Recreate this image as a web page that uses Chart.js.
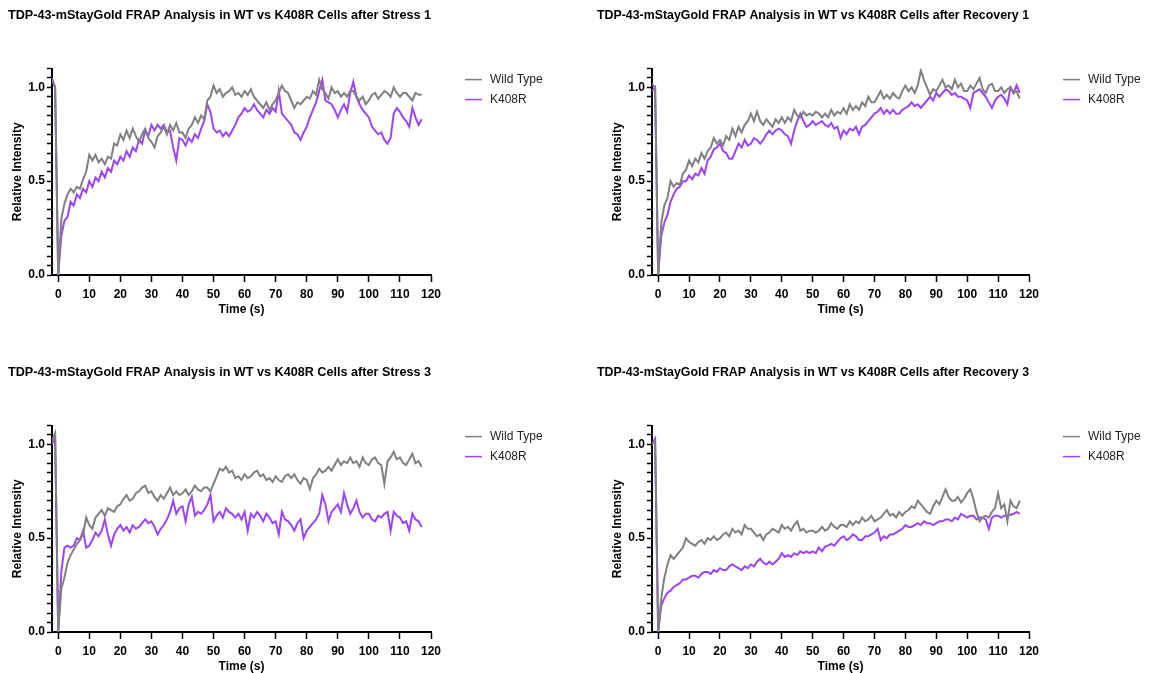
<!DOCTYPE html>
<html>
<head>
<meta charset="utf-8">
<script src="https://cdn.jsdelivr.net/npm/chart.js@4.4.1/dist/chart.umd.min.js"></script>
<style>
  body { margin: 0; background: #fff; width: 1150px; height: 673px; position: relative; overflow: hidden; }
  .panel { position: absolute; width: 560px; height: 336px; }
</style>
</head>
<body>
<div class="panel" style="left:0;top:0"><canvas id="stress1" width="560" height="336"></canvas></div>
<div class="panel" style="left:590px;top:0"><canvas id="recovery1" width="560" height="336"></canvas></div>
<div class="panel" style="left:0;top:357px"><canvas id="stress3" width="560" height="336"></canvas></div>
<div class="panel" style="left:590px;top:357px"><canvas id="recovery3" width="560" height="336"></canvas></div>
<script>
// time points (s): two pre-bleach frames, bleach at 0, then 1 s steps to 117
const times = Array.from({ length: 120 }, (_, i) => i - 2);

const xTicks = [0, 10, 20, 30, 40, 50, 60, 70, 80, 90, 100, 110, 120];
const yTicks = [0.0, 0.5, 1.0];

// Stress 1
const stress1Wt = [1.04, 1.00, 0.00,
  0.30, 0.38, 0.43, 0.46, 0.44, 0.47, 0.46, 0.51, 0.55,
  0.64, 0.61, 0.64, 0.60, 0.62, 0.59, 0.63, 0.62, 0.70, 0.69,
  0.75, 0.72, 0.77, 0.73, 0.78, 0.74, 0.71, 0.75, 0.78, 0.73,
  0.71, 0.68, 0.74, 0.76, 0.79, 0.75, 0.80, 0.77, 0.81, 0.76,
  0.76, 0.73, 0.78, 0.80, 0.84, 0.81, 0.85, 0.83, 0.93, 0.95,
  1.01, 0.97, 0.99, 0.95, 0.97, 0.98, 1.00, 0.96, 0.97, 0.95,
  0.98, 0.96, 0.99, 0.95, 0.93, 0.91, 0.89, 0.92, 0.88, 0.91,
  0.93, 0.97, 1.01, 0.98, 0.97, 0.93, 0.89, 0.92, 0.91, 0.93,
  0.95, 0.94, 0.98, 0.96, 1.04, 0.99, 0.97, 0.94, 1.00, 0.97,
  0.98, 0.95, 0.97, 0.95, 0.98, 0.98, 0.95, 0.93, 0.95, 0.91,
  0.93, 0.96, 0.97, 0.94, 0.96, 0.98, 0.97, 0.95, 1.00, 0.97,
  0.95, 0.97, 0.97, 0.95, 0.93, 0.97, 0.96, 0.96];
const stress1K = [1.05, 1.00, 0.00,
  0.21, 0.29, 0.31, 0.39, 0.37, 0.43, 0.41, 0.46, 0.44,
  0.50, 0.47, 0.52, 0.50, 0.55, 0.52, 0.57, 0.55, 0.61, 0.59,
  0.63, 0.61, 0.66, 0.63, 0.68, 0.66, 0.72, 0.70, 0.77, 0.74,
  0.80, 0.77, 0.80, 0.78, 0.80, 0.76, 0.77, 0.68, 0.61, 0.73,
  0.72, 0.69, 0.73, 0.71, 0.75, 0.73, 0.78, 0.82, 0.91, 0.87,
  0.78, 0.76, 0.77, 0.74, 0.76, 0.74, 0.77, 0.80, 0.84, 0.86,
  0.89, 0.87, 0.88, 0.91, 0.88, 0.86, 0.84, 0.88, 0.86, 0.89,
  0.87, 0.98, 0.86, 0.84, 0.82, 0.80, 0.76, 0.75, 0.72, 0.76,
  0.79, 0.84, 0.88, 0.92, 0.98, 1.04, 0.93, 0.92, 0.91, 0.88,
  0.84, 0.88, 0.91, 0.87, 0.97, 1.03, 0.95, 0.91, 0.88, 0.86,
  0.84, 0.79, 0.77, 0.75, 0.76, 0.72, 0.70, 0.73, 0.86, 0.89,
  0.87, 0.84, 0.82, 0.79, 0.89, 0.84, 0.80, 0.83];

// Recovery 1
const recovery1Wt = [1.02, 1.00, 0.00,
  0.28, 0.37, 0.41, 0.50, 0.47, 0.49, 0.48, 0.54, 0.56,
  0.61, 0.58, 0.62, 0.60, 0.65, 0.62, 0.66, 0.68, 0.73, 0.70,
  0.72, 0.69, 0.74, 0.72, 0.78, 0.74, 0.79, 0.76, 0.80, 0.82,
  0.86, 0.82, 0.87, 0.82, 0.80, 0.83, 0.81, 0.79, 0.83, 0.81,
  0.84, 0.81, 0.84, 0.82, 0.88, 0.85, 0.84, 0.87, 0.85, 0.86,
  0.85, 0.87, 0.86, 0.84, 0.86, 0.84, 0.88, 0.85, 0.87, 0.86,
  0.89, 0.86, 0.91, 0.88, 0.90, 0.88, 0.92, 0.90, 0.95, 0.92,
  0.92, 0.95, 0.98, 0.94, 0.96, 0.94, 0.97, 0.95, 0.94, 0.98,
  1.01, 0.98, 1.00, 0.97, 1.01, 1.09, 1.04, 1.00, 0.96, 0.99,
  0.98, 1.01, 1.04, 1.00, 1.01, 0.99, 1.04, 1.00, 1.02, 0.98,
  0.98, 1.01, 0.99, 1.02, 1.05, 0.99, 0.97, 1.01, 1.02, 0.98,
  0.98, 1.00, 0.97, 0.99, 1.00, 0.97, 0.98, 0.94];
const recovery1K = [0.98, 1.00, 0.00,
  0.21, 0.28, 0.32, 0.39, 0.43, 0.46, 0.47, 0.50, 0.50,
  0.53, 0.51, 0.54, 0.53, 0.57, 0.54, 0.61, 0.63, 0.67, 0.68,
  0.70, 0.66, 0.65, 0.62, 0.62, 0.66, 0.70, 0.68, 0.72, 0.69,
  0.70, 0.73, 0.72, 0.70, 0.72, 0.75, 0.77, 0.75, 0.77, 0.78,
  0.77, 0.75, 0.74, 0.70, 0.77, 0.82, 0.86, 0.82, 0.79, 0.80,
  0.82, 0.80, 0.81, 0.82, 0.80, 0.79, 0.81, 0.78, 0.79, 0.73,
  0.77, 0.75, 0.78, 0.77, 0.79, 0.75, 0.79, 0.80, 0.82, 0.84,
  0.86, 0.87, 0.89, 0.86, 0.88, 0.86, 0.88, 0.86, 0.86, 0.88,
  0.89, 0.90, 0.92, 0.90, 0.91, 0.89, 0.91, 0.93, 0.95, 0.93,
  0.97, 0.95, 0.97, 0.99, 0.98, 0.96, 0.97, 0.95, 0.95, 0.94,
  0.93, 0.89, 0.97, 0.98, 0.99, 0.97, 0.95, 0.92, 0.89, 0.93,
  0.95, 0.96, 0.94, 0.91, 1.00, 0.97, 1.01, 0.97];

// Stress 3
const stress3Wt = [1.02, 1.06, 0.00,
  0.23, 0.29, 0.37, 0.41, 0.44, 0.47, 0.49, 0.52, 0.61,
  0.57, 0.55, 0.61, 0.63, 0.65, 0.62, 0.66, 0.65, 0.64, 0.67,
  0.68, 0.71, 0.73, 0.70, 0.71, 0.74, 0.75, 0.77, 0.78, 0.74,
  0.75, 0.72, 0.70, 0.73, 0.71, 0.74, 0.77, 0.73, 0.75, 0.73,
  0.74, 0.76, 0.73, 0.75, 0.78, 0.76, 0.75, 0.77, 0.77, 0.75,
  0.79, 0.83, 0.87, 0.86, 0.88, 0.85, 0.86, 0.82, 0.83, 0.81,
  0.84, 0.82, 0.83, 0.85, 0.86, 0.83, 0.84, 0.81, 0.82, 0.80,
  0.83, 0.81, 0.80, 0.83, 0.84, 0.82, 0.84, 0.81, 0.79, 0.82,
  0.81, 0.76, 0.82, 0.84, 0.87, 0.85, 0.86, 0.88, 0.86, 0.89,
  0.92, 0.89, 0.91, 0.90, 0.93, 0.90, 0.91, 0.88, 0.93, 0.90,
  0.89, 0.92, 0.93, 0.90, 0.89, 0.79, 0.91, 0.93, 0.96, 0.92,
  0.93, 0.90, 0.89, 0.92, 0.95, 0.90, 0.91, 0.88];
const stress3K = [1.00, 1.04, 0.00,
  0.32, 0.45, 0.46, 0.45, 0.46, 0.50, 0.49, 0.54, 0.45,
  0.46, 0.49, 0.53, 0.51, 0.54, 0.60, 0.52, 0.46, 0.52, 0.55,
  0.57, 0.54, 0.56, 0.53, 0.57, 0.55, 0.56, 0.58, 0.60, 0.58,
  0.59, 0.56, 0.52, 0.55, 0.57, 0.60, 0.64, 0.70, 0.63, 0.66,
  0.67, 0.59, 0.68, 0.72, 0.62, 0.64, 0.63, 0.65, 0.68, 0.73,
  0.59, 0.62, 0.64, 0.61, 0.66, 0.64, 0.63, 0.61, 0.63, 0.60,
  0.64, 0.54, 0.63, 0.61, 0.64, 0.62, 0.59, 0.63, 0.61, 0.58,
  0.59, 0.52, 0.64, 0.60, 0.59, 0.57, 0.54, 0.58, 0.60, 0.50,
  0.54, 0.56, 0.58, 0.60, 0.63, 0.73, 0.68, 0.59, 0.64, 0.66,
  0.68, 0.64, 0.74, 0.68, 0.63, 0.66, 0.70, 0.64, 0.61, 0.63,
  0.63, 0.60, 0.59, 0.62, 0.61, 0.63, 0.64, 0.54, 0.64, 0.62,
  0.61, 0.58, 0.59, 0.54, 0.63, 0.60, 0.59, 0.56];

// Recovery 3
const recovery3Wt = [1.00, 1.02, 0.00,
  0.18, 0.29, 0.36, 0.41, 0.39, 0.41, 0.43, 0.45, 0.50,
  0.48, 0.47, 0.46, 0.48, 0.49, 0.47, 0.50, 0.49, 0.51, 0.49,
  0.50, 0.52, 0.53, 0.51, 0.55, 0.53, 0.54, 0.52, 0.57, 0.55,
  0.55, 0.53, 0.51, 0.52, 0.49, 0.52, 0.53, 0.55, 0.54, 0.53,
  0.57, 0.55, 0.56, 0.54, 0.57, 0.59, 0.54, 0.55, 0.53, 0.54,
  0.54, 0.53, 0.54, 0.56, 0.54, 0.55, 0.58, 0.56, 0.55, 0.57,
  0.57, 0.56, 0.59, 0.57, 0.59, 0.58, 0.61, 0.59, 0.60, 0.62,
  0.59, 0.60, 0.61, 0.63, 0.65, 0.62, 0.63, 0.61, 0.64, 0.62,
  0.64, 0.65, 0.67, 0.66, 0.70, 0.68, 0.66, 0.64, 0.63, 0.67,
  0.70, 0.68, 0.72, 0.76, 0.72, 0.70, 0.70, 0.72, 0.69, 0.71,
  0.74, 0.76, 0.71, 0.64, 0.59, 0.61, 0.62, 0.61, 0.64, 0.66,
  0.74, 0.66, 0.68, 0.59, 0.70, 0.67, 0.66, 0.70];
const recovery3K = [1.00, 1.03, 0.00,
  0.14, 0.18, 0.21, 0.22, 0.24, 0.25, 0.26, 0.28, 0.28,
  0.29, 0.30, 0.30, 0.29, 0.31, 0.32, 0.32, 0.31, 0.33, 0.32,
  0.34, 0.33, 0.33, 0.35, 0.36, 0.35, 0.34, 0.33, 0.35, 0.34,
  0.36, 0.35, 0.375, 0.39, 0.37, 0.36, 0.375, 0.36, 0.375, 0.39,
  0.42, 0.40, 0.41, 0.40, 0.42, 0.41, 0.43, 0.42, 0.43, 0.42,
  0.43, 0.42, 0.45, 0.43, 0.455, 0.46, 0.47, 0.46, 0.48, 0.50,
  0.51, 0.49, 0.50, 0.52, 0.51, 0.49, 0.49, 0.51, 0.51, 0.52,
  0.53, 0.55, 0.49, 0.51, 0.50, 0.52, 0.52, 0.53, 0.54, 0.55,
  0.57, 0.56, 0.56, 0.57, 0.58, 0.57, 0.59, 0.58, 0.58, 0.57,
  0.58, 0.59, 0.59, 0.60, 0.60, 0.59, 0.61, 0.60, 0.63, 0.62,
  0.61, 0.62, 0.62, 0.60, 0.61, 0.61, 0.60, 0.55, 0.61, 0.62,
  0.62, 0.61, 0.62, 0.62, 0.625, 0.63, 0.64, 0.63];

const wtColor = '#808080';
const kColor = '#9b45f5';
const fontFamily = "'Liberation Sans', Arial, Helvetica, sans-serif";
Chart.defaults.font.family = fontFamily;
Chart.defaults.color = '#000';

function toPoints(values) {
  return times.map((t, i) => ({ x: t, y: values[i] }));
}

// legend drawn to the right of the plot, like the Prism export
const sideLegend = {
  id: 'sideLegend',
  afterDraw(chart) {
    const { ctx, chartArea } = chart;
    ctx.save();
    ctx.font = '12px ' + fontFamily;
    ctx.textBaseline = 'middle';
    chart.data.datasets.forEach((ds, i) => {
      const x = chartArea.right + 34;
      const y = chartArea.top + 11 + i * 20;
      ctx.strokeStyle = ds.borderColor;
      ctx.lineWidth = 1.5;
      ctx.beginPath();
      ctx.moveTo(x, y);
      ctx.lineTo(x + 17, y);
      ctx.stroke();
      ctx.fillStyle = '#222';
      ctx.fillText(ds.label, x + 25, y);
    });
    ctx.restore();
  }
};

function makePanel(id, title, wt, k, p) {
  const ctx = document.getElementById(id).getContext('2d');
  return new Chart(ctx, {
    type: 'line',
    data: {
      datasets: [
        { label: 'Wild Type', data: toPoints(wt), borderColor: wtColor, borderWidth: 2, pointRadius: 0, tension: 0 },
        { label: 'K408R', data: toPoints(k), borderColor: kColor, borderWidth: 2, pointRadius: 0, tension: 0 }
      ]
    },
    options: {
      responsive: false,
      animation: false,
      events: [],
      layout: { padding: { left: p.padLeft, right: p.padRight, top: 0, bottom: 16 } },
      plugins: {
        legend: { display: false },
        tooltip: { enabled: false },
        title: {
          display: true,
          text: title,
          align: 'start',
          color: '#000',
          font: { size: 13, weight: 'bold' },
          padding: { top: 8, bottom: 45 }
        }
      },
      scales: {
        x: {
          type: 'linear',
          min: -2,
          max: 120,
          afterFit(scale) { scale.height = 45; },
          border: { color: '#000', width: 2 },
          grid: { drawOnChartArea: false, tickLength: 7, tickColor: '#000', tickWidth: 1.5 },
          ticks: {
            stepSize: 10,
            includeBounds: false,
            padding: 5,
            color: '#000',
            font: { size: 12, weight: 'bold' },
            callback: (v) => xTicks.includes(v) ? String(v) : ''
          },
          title: { display: true, text: 'Time (s)', color: '#000', font: { size: 12, weight: 'bold' }, padding: { top: 0, bottom: 3 } }
        },
        y: {
          min: 0,
          max: 1.1,
          afterFit(scale) { scale.width = p.yWidth; },
          border: { color: '#000', width: 2 },
          grid: { drawOnChartArea: false, tickLength: 5, tickColor: '#000', tickWidth: 1.5 },
          ticks: {
            stepSize: 0.05,
            autoSkip: false,
            padding: 2,
            color: '#000',
            font: { size: 12, weight: 'bold' },
            callback: (v) => yTicks.some(t => Math.abs(t - v) < 1e-6) ? v.toFixed(1) : ''
          },
          title: { display: true, text: 'Relative Intensity', color: '#000', font: { size: 12, weight: 'bold' }, padding: { top: p.yWidth - 42, bottom: 0 } }
        }
      }
    },
    plugins: [sideLegend]
  });
}

const leftPanel = { padLeft: 8, yWidth: 44, padRight: 129 };
const rightPanel = { padLeft: 7, yWidth: 55, padRight: 121 };

makePanel('stress1', 'TDP-43-mStayGold FRAP Analysis in WT vs K408R Cells after Stress 1', stress1Wt, stress1K, leftPanel);
makePanel('recovery1', 'TDP-43-mStayGold FRAP Analysis in WT vs K408R Cells after Recovery 1', recovery1Wt, recovery1K, rightPanel);
makePanel('stress3', 'TDP-43-mStayGold FRAP Analysis in WT vs K408R Cells after Stress 3', stress3Wt, stress3K, leftPanel);
makePanel('recovery3', 'TDP-43-mStayGold FRAP Analysis in WT vs K408R Cells after Recovery 3', recovery3Wt, recovery3K, rightPanel);
</script>
</body>
</html>
